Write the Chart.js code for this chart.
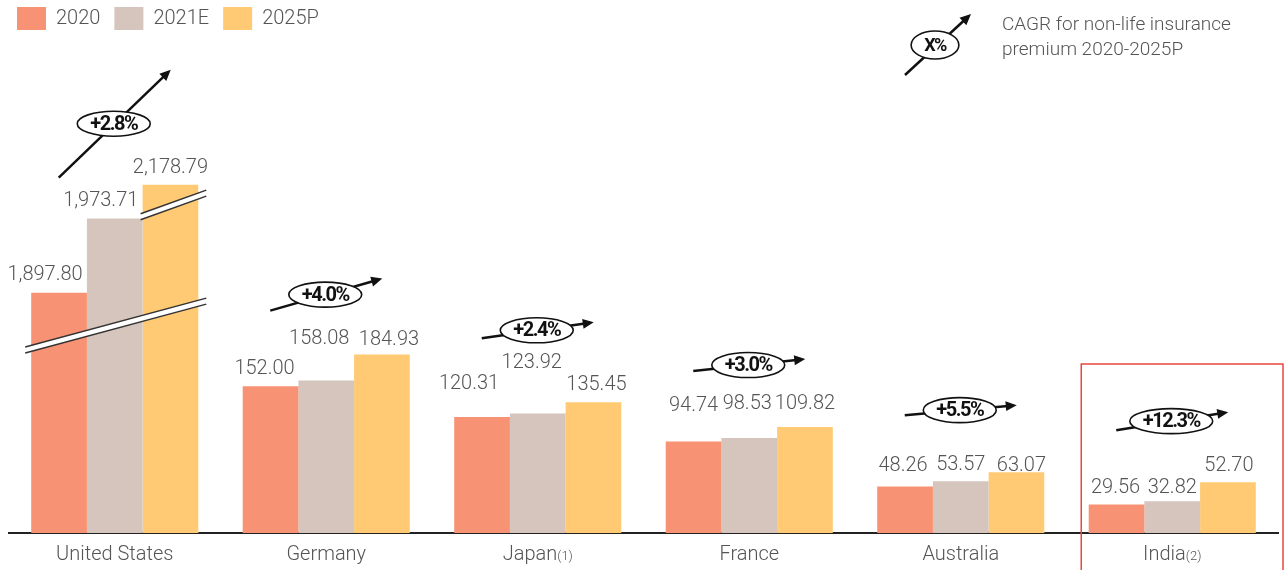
<!DOCTYPE html>
<html lang="en">
<head>
<meta charset="UTF-8">
<title>Non-life insurance premium 2020-2025P</title>
<style>
  html, body { margin: 0; padding: 0; background: #fff; }
  #wrap { width: 1284px; height: 570px; }
</style>
</head>
<body>
<div id="wrap"><canvas id="chart" width="1284" height="570"></canvas></div>

<script src="https://cdn.jsdelivr.net/npm/chart.js@4.4.1/dist/chart.umd.min.js"></script>
<script>
const countries = ['United States', 'Germany', 'Japan', 'France', 'Australia', 'India'];
const notes = ['', '', '(1)', '', '', '(2)'];
const v2020 = [1897.80, 152.00, 120.31, 94.74, 48.26, 29.56];
const v2021 = [1973.71, 158.08, 123.92, 98.53, 53.57, 32.82];
const v2025 = [2178.79, 184.93, 135.45, 109.82, 63.07, 52.70];
const cagr = ['+2.8%', '+4.0%', '+2.4%', '+3.0%', '+5.5%', '+12.3%'];
const usDrawn = [249, 326, 361];

const colors = ['#F89274', '#D5C5BC', '#FFCA73'];
const series = [['2020', v2020], ['2021E', v2021], ['2025P', v2025]];

// label nudges [dx, lift above bar top] per country / series
const nudge = [
    [[-14, 18], [-14, 17], [0, 17]],
    [[-6, 17], [-7, 41], [7, 15]],
    [[-13, 33], [-6, 50], [3, 17]],
    [[0, 36], [-2, 34], [0, 23]],
    [[-2, 20], [0, 16], [5, 6]],
    [[-1, 16], [0, 13], [1, 16]]
];
const arrowRise = [54, 16, 8, 6, 5, 9];
const arrowLift = [61, 60, 72, 62, 62, 61];

const fmt = v => v.toLocaleString('en-US', { minimumFractionDigits: 2, maximumFractionDigits: 2 });
const labelFont = '300 20px Roboto';

function drawBreak(ctx, x1, y1, x2, y2) {
    const h = 3;
    ctx.save();
    ctx.fillStyle = '#fff';
    ctx.beginPath();
    ctx.moveTo(x1, y1 - h); ctx.lineTo(x2, y2 - h);
    ctx.lineTo(x2, y2 + h); ctx.lineTo(x1, y1 + h);
    ctx.closePath();
    ctx.fill();
    ctx.strokeStyle = '#333';
    ctx.lineWidth = 1.5;
    ctx.beginPath();
    ctx.moveTo(x1, y1 - h); ctx.lineTo(x2, y2 - h);
    ctx.moveTo(x1, y1 + h); ctx.lineTo(x2, y2 + h);
    ctx.stroke();
    ctx.restore();
}

function drawCagr(ctx, cx, cy, back, fwd, text, fontSize, eh) {
    const x1 = cx + back[0], y1 = cy + back[1], x2 = cx + fwd[0], y2 = cy + fwd[1];
    const ang = Math.atan2(y2 - y1, x2 - x1);
    const head = 11;
    ctx.save();
    ctx.strokeStyle = '#111';
    ctx.fillStyle = '#111';
    ctx.lineWidth = 2.5;
    ctx.beginPath();
    ctx.moveTo(x1, y1);
    ctx.lineTo(x2 - Math.cos(ang) * head * 0.8, y2 - Math.sin(ang) * head * 0.8);
    ctx.stroke();
    ctx.beginPath();
    ctx.moveTo(x2, y2);
    ctx.lineTo(x2 - Math.cos(ang) * head + Math.sin(ang) * 5, y2 - Math.sin(ang) * head - Math.cos(ang) * 5);
    ctx.lineTo(x2 - Math.cos(ang) * head - Math.sin(ang) * 5, y2 - Math.sin(ang) * head + Math.cos(ang) * 5);
    ctx.closePath();
    ctx.fill();

    ctx.font = 'bold ' + fontSize + 'px Roboto';
    ctx.letterSpacing = '-1.5px';
    const w = ctx.measureText(text).width + 26;
    ctx.beginPath();
    ctx.ellipse(cx, cy, w / 2, eh / 2, 0, 0, Math.PI * 2);
    ctx.fillStyle = '#fff';
    ctx.fill();
    ctx.lineWidth = 1.6;
    ctx.stroke();
    ctx.fillStyle = '#111';
    ctx.textAlign = 'center';
    ctx.textBaseline = 'middle';
    ctx.fillText(text, cx, cy + 1);
    ctx.restore();
}

const deco = {
    id: 'deco',
    afterDatasetsDraw(chart) {
        const { ctx, chartArea, scales: { x, y } } = chart;
        const m = [0, 1, 2].map(d => chart.getDatasetMeta(d).data);

        // axis break marks on the US bars
        const b0 = m[0][0], b2 = m[2][0];
        const lx1 = b0.x - b0.width / 2 - 6, lx2 = b2.x + b2.width / 2 + 8;
        const lyc = y.getPixelForValue(215), lxc = (lx1 + lx2) / 2;
        drawBreak(ctx, lx1, lyc + 0.27 * (lxc - lx1), lx2, lyc - 0.27 * (lx2 - lxc));
        const ux1 = b2.x - b2.width / 2 - 2, ux2 = b2.x + b2.width / 2 + 8;
        const uyc = y.getPixelForValue(340), uxc = (ux1 + ux2) / 2;
        drawBreak(ctx, ux1, uyc + 0.36 * (uxc - ux1), ux2, uyc - 0.36 * (ux2 - uxc));

        // value labels
        ctx.save();
        ctx.font = labelFont;
        ctx.fillStyle = '#555';
        ctx.textAlign = 'center';
        ctx.textBaseline = 'middle';
        series.forEach(([, vals], d) => {
            m[d].forEach((bar, i) => {
                const [dx, lift] = nudge[i][d];
                ctx.fillText(fmt(vals[i]), bar.x + dx, bar.y - lift);
            });
        });
        ctx.restore();

        // CAGR arrows
        countries.forEach((c, i) => {
            const top = m[2][i].y;
            const r = arrowRise[i];
            drawCagr(ctx, x.getPixelForValue(i) - 1, top - arrowLift[i], [-55, r], [57, -r], cagr[i], 20, 25);
        });

        // category labels with footnote marks
        ctx.save();
        ctx.fillStyle = '#555';
        ctx.textBaseline = 'alphabetic';
        countries.forEach((c, i) => {
            ctx.font = labelFont;
            const w1 = ctx.measureText(c).width;
            ctx.font = '300 13px Roboto';
            const w2 = notes[i] ? ctx.measureText(notes[i]).width : 0;
            const sx = x.getPixelForValue(i) - (w1 + w2) / 2;
            const by = chartArea.bottom + 27;
            ctx.font = labelFont;
            ctx.fillText(c, sx, by);
            if (notes[i]) {
                ctx.font = '300 13px Roboto';
                ctx.fillText(notes[i], sx + w1, by);
            }
        });
        ctx.restore();

        // highlight box around India
        ctx.save();
        ctx.strokeStyle = '#E8473F';
        ctx.lineWidth = 1.5;
        const ix = x.getPixelForValue(5) - 91;
        ctx.strokeRect(ix, chartArea.bottom - 169, chart.width - 1 - ix, 220);
        ctx.restore();

        // CAGR key, top right
        drawCagr(ctx, 935, 45, [-30, 30], [36, -31], 'X%', 18, 28);
        ctx.save();
        ctx.font = '300 19px Roboto';
        ctx.fillStyle = '#555';
        ctx.textBaseline = 'middle';
        ctx.fillText('CAGR for non-life insurance', 1002, 25);
        ctx.fillText('premium 2020-2025P', 1002, 50);
        ctx.restore();
    }
};

const ctx = document.getElementById('chart').getContext('2d');
new Chart(ctx, {
    type: 'bar',
    data: {
        labels: countries,
        datasets: series.map(([name, vals], d) => ({
            label: name,
            data: vals.map((v, i) => i === 0 ? usDrawn[d] : v),
            backgroundColor: colors[d],
            borderWidth: 0,
            barPercentage: 1,
            categoryPercentage: 0.79
        }))
    },
    options: {
        responsive: false,
        animation: false,
        devicePixelRatio: 1,
        layout: { padding: { left: 3, right: 6, top: -7, bottom: 29 } },
        plugins: {
            legend: {
                position: 'top',
                align: 'start',
                labels: {
                    boxWidth: 29,
                    boxHeight: 23,
                    padding: 14,
                    color: '#555',
                    font: { family: 'Roboto', size: 20, weight: '300' }
                }
            },
            tooltip: { enabled: false }
        },
        scales: {
            x: {
                grid: { display: false },
                ticks: { display: false },
                border: { display: true, color: '#222', width: 2 }
            },
            y: {
                min: 0,
                max: 511,
                grid: { display: false },
                ticks: { display: false },
                border: { display: false },
                afterFit: s => { s.width = 6; }
            }
        }
    },
    plugins: [deco]
});
</script>
</body>
</html>
